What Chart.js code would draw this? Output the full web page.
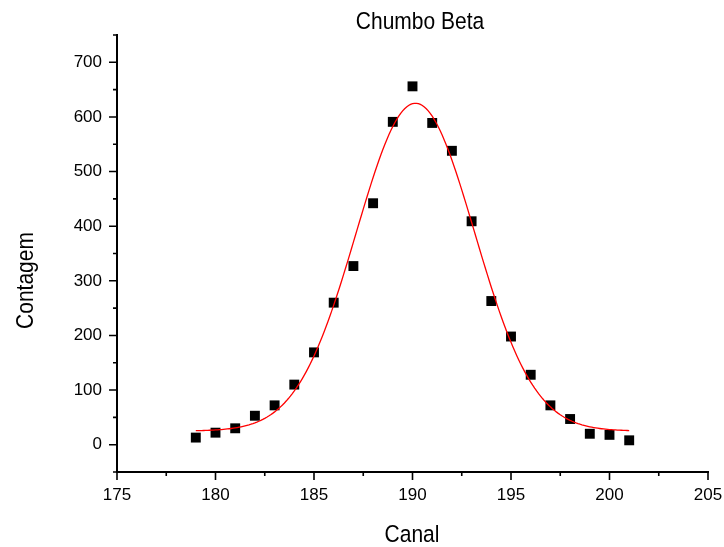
<!DOCTYPE html>
<html>
<head>
<meta charset="utf-8">
<script src="https://cdn.jsdelivr.net/npm/chart.js@4/dist/chart.umd.min.js"></script>
<style>
  html, body { margin: 0; padding: 0; background: #fff; }
  canvas { display: block; }
</style>
</head>
<body>
<canvas id="chart" width="724" height="547"></canvas>
<script>
// Measured spectrum: channel number and counts
const canal = [179, 180, 181, 182, 183, 184, 185, 186, 187, 188, 189, 190,
               191, 192, 193, 194, 195, 196, 197, 198, 199, 200, 201];
const contagem = [13, 22, 30, 53, 72, 110, 169, 260, 327, 442, 591, 656,
                  589, 538, 409, 263, 198, 128, 72, 47, 20, 18, 8];

// Gaussian fit parameters (baseline, peak height, centre, sigma)
const fitY0 = 25;
const fitA = 600;
const fitXc = 190.15;
const fitSigma = 3.0;

// Axis ticks
const xMajorTicks = [175, 180, 185, 190, 195, 200, 205];
const yMajorTicks = [0, 100, 200, 300, 400, 500, 600, 700];

const titleText = 'Chumbo Beta';
const xTitle = 'Canal';
const yTitle = 'Contagem';

const FONT = "Arial, 'Liberation Sans', sans-serif";

// Fitted curve evaluated over the measured channel range
const fitCurve = [];
for (let i = 0; i <= 220; i++) {
  const xv = canal[0] + (canal[canal.length - 1] - canal[0]) * i / 220;
  const yv = fitY0 + fitA * Math.exp(-Math.pow(xv - fitXc, 2) / (2 * fitSigma * fitSigma));
  fitCurve.push({ x: xv, y: yv });
}

const points = canal.map((c, i) => ({ x: c, y: contagem[i] }));

// Draws outward tick marks (long major, short minor) and the text labels
const axisDecor = {
  id: 'axisDecor',
  afterDraw(chart) {
    const { ctx, chartArea, scales } = chart;
    const xs = scales.x, ys = scales.y;
    ctx.save();
    ctx.strokeStyle = '#000';
    ctx.lineWidth = 1.6;
    ctx.beginPath();
    for (let v = ys.min; v <= ys.max + 1e-6; v += 50) {
      const py = ys.getPixelForValue(v);
      const len = yMajorTicks.includes(v) ? 8 : 4;
      ctx.moveTo(chartArea.left, py);
      ctx.lineTo(chartArea.left - len, py);
    }
    for (let v = xs.min; v <= xs.max + 1e-6; v += 2.5) {
      const px = xs.getPixelForValue(v);
      const len = xMajorTicks.includes(v) ? 8 : 4;
      ctx.moveTo(px, chartArea.bottom);
      ctx.lineTo(px, chartArea.bottom + len);
    }
    ctx.stroke();

    ctx.fillStyle = '#000';
    ctx.textAlign = 'center';
    ctx.textBaseline = 'alphabetic';
    ctx.font = '21px ' + FONT;

    ctx.save();
    ctx.translate(420, 29);
    ctx.scale(1, 1.1);
    ctx.fillText(titleText, 0, 0);
    ctx.restore();

    ctx.save();
    ctx.translate(412, 542);
    ctx.scale(1, 1.1);
    ctx.fillText(xTitle, 0, 0);
    ctx.restore();

    ctx.save();
    ctx.translate(33, 280.5);
    ctx.rotate(-Math.PI / 2);
    ctx.scale(1, 1.1);
    ctx.fillText(yTitle, 0, 0);
    ctx.restore();

    ctx.restore();
  }
};

new Chart(document.getElementById('chart'), {
  type: 'scatter',
  data: {
    datasets: [
      {
        label: 'Ajuste',
        type: 'line',
        data: fitCurve,
        borderColor: '#ff0000',
        borderWidth: 1.3,
        pointRadius: 0,
        fill: false,
        tension: 0,
        order: 0
      },
      {
        label: 'Contagem',
        data: points,
        pointStyle: 'rect',
        pointRadius: 7,
        pointHoverRadius: 7,
        backgroundColor: '#000',
        borderWidth: 0,
        order: 1
      }
    ]
  },
  options: {
    responsive: false,
    animation: false,
    devicePixelRatio: 1,
    layout: { padding: { top: 35, right: 16, left: 0, bottom: 0 } },
    plugins: {
      legend: { display: false },
      title: { display: false },
      tooltip: { enabled: false }
    },
    scales: {
      x: {
        type: 'linear',
        min: 175,
        max: 205,
        afterFit(s) { s.height = 75; s.paddingLeft = 0; s.paddingRight = 0; },
        grid: { drawOnChartArea: false, drawTicks: false },
        border: { display: true, color: '#000', width: 2 },
        ticks: {
          stepSize: 5,
          padding: 13,
          color: '#000',
          font: { family: FONT, size: 17 },
          maxRotation: 0,
          callback: (v) => xMajorTicks.includes(v) ? String(v) : ''
        }
      },
      y: {
        type: 'linear',
        min: -50,
        max: 750,
        afterFit(s) { s.width = 117; s.paddingTop = 0; s.paddingBottom = 0; },
        grid: { drawOnChartArea: false, drawTicks: false },
        border: { display: true, color: '#000', width: 2 },
        ticks: {
          stepSize: 50,
          padding: 15,
          color: '#000',
          font: { family: FONT, size: 17 },
          callback: (v) => yMajorTicks.includes(v) ? String(v) : ''
        }
      }
    }
  },
  plugins: [axisDecor]
});
</script>
</body>
</html>
